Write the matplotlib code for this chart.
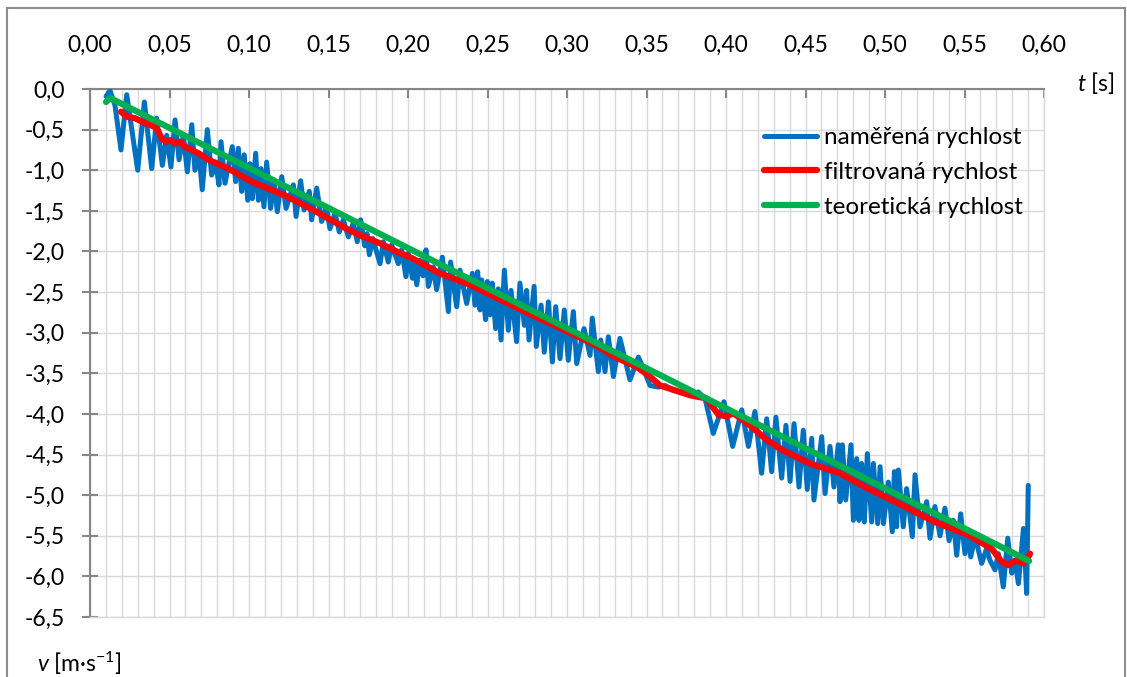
import matplotlib
matplotlib.use('Agg')
import matplotlib.pyplot as plt
from matplotlib.ticker import MultipleLocator
from matplotlib.patches import Rectangle

plt.rcParams['font.family'] = ['Lato', 'DejaVu Sans']
plt.rcParams['mathtext.fontset'] = 'custom'
plt.rcParams['mathtext.rm'] = 'Lato'
plt.rcParams['mathtext.it'] = 'Lato:italic'

# teoreticka rychlost
theory_t = [0.0101, 0.0126, 0.5906]
theory_v = [-0.16, -0.11, -5.81]

# filtrovana rychlost
filtered_t = [0.0195, 0.0231, 0.0283, 0.0325, 0.0377, 0.0419, 0.0451, 0.0476, 0.0503, 0.0535,
              0.0566, 0.0597, 0.0640, 0.0681, 0.0744, 0.0870, 0.1017, 0.1226, 0.1405, 0.1614,
              0.1698, 0.1824, 0.1929, 0.2033, 0.2201, 0.2390, 0.2778, 0.2987, 0.3197, 0.3302,
              0.3438, 0.3522, 0.3585, 0.3648, 0.3774, 0.3878, 0.3952, 0.4004, 0.4046, 0.4151,
              0.4256, 0.4360, 0.4528, 0.4717, 0.4895, 0.5105, 0.5314, 0.5524, 0.5671, 0.5734,
              0.5776, 0.5828, 0.5870, 0.5901, 0.5912]
filtered_v = [-0.28, -0.34, -0.36, -0.40, -0.44, -0.48, -0.61, -0.65, -0.63, -0.67,
              -0.65, -0.71, -0.75, -0.79, -0.87, -0.98, -1.14, -1.31, -1.49, -1.72,
              -1.80, -1.90, -2.00, -2.09, -2.27, -2.41, -2.78, -2.97, -3.17, -3.30,
              -3.42, -3.54, -3.65, -3.69, -3.77, -3.81, -4.01, -4.03, -3.99, -4.14,
              -4.32, -4.45, -4.61, -4.73, -4.92, -5.12, -5.33, -5.49, -5.66, -5.82,
              -5.86, -5.80, -5.84, -5.76, -5.72]

# namerena rychlost
measured_t = [0.0101, 0.0126, 0.0157, 0.0195, 0.0231, 0.0300, 0.0342, 0.0388, 0.0419, 0.0455,
              0.0482, 0.0509, 0.0535, 0.0560, 0.0587, 0.0612, 0.0640, 0.0660, 0.0686, 0.0706,
              0.0738, 0.0765, 0.0790, 0.0811, 0.0824, 0.0849, 0.0895, 0.0916, 0.0933, 0.0954,
              0.0970, 0.0992, 0.1006, 0.1021, 0.1042, 0.1059, 0.1075, 0.1094, 0.1111, 0.1136,
              0.1157, 0.1178, 0.1206, 0.1233, 0.1279, 0.1296, 0.1325, 0.1346, 0.1379, 0.1394,
              0.1426, 0.1457, 0.1488, 0.1509, 0.1541, 0.1568, 0.1593, 0.1625, 0.1656, 0.1681,
              0.1702, 0.1728, 0.1742, 0.1757, 0.1778, 0.1824, 0.1845, 0.1876, 0.1897, 0.1939,
              0.1960, 0.1987, 0.2002, 0.2028, 0.2040, 0.2055, 0.2075, 0.2095, 0.2113, 0.2128,
              0.2159, 0.2180, 0.2216, 0.2254, 0.2268, 0.2306, 0.2327, 0.2369, 0.2405, 0.2421,
              0.2438, 0.2453, 0.2463, 0.2488, 0.2499, 0.2516, 0.2530, 0.2551, 0.2568, 0.2585,
              0.2606, 0.2631, 0.2648, 0.2683, 0.2704, 0.2732, 0.2746, 0.2761, 0.2793, 0.2807,
              0.2837, 0.2857, 0.2883, 0.2908, 0.2929, 0.2956, 0.2983, 0.3008, 0.3040, 0.3061,
              0.3107, 0.3145, 0.3159, 0.3197, 0.3212, 0.3239, 0.3260, 0.3292, 0.3333, 0.3396,
              0.3449, 0.3480, 0.3522, 0.3574, 0.3616, 0.3669, 0.3721, 0.3774, 0.3826, 0.3868,
              0.3920, 0.3987, 0.4042, 0.4099, 0.4141, 0.4182, 0.4224, 0.4256, 0.4287, 0.4314,
              0.4350, 0.4377, 0.4403, 0.4428, 0.4459, 0.4486, 0.4511, 0.4539, 0.4553, 0.4602,
              0.4623, 0.4654, 0.4679, 0.4706, 0.4717, 0.4732, 0.4753, 0.4786, 0.4801, 0.4822,
              0.4836, 0.4853, 0.4870, 0.4889, 0.4916, 0.4927, 0.4954, 0.4969, 0.4990, 0.5021,
              0.5046, 0.5059, 0.5073, 0.5084, 0.5115, 0.5136, 0.5172, 0.5189, 0.5220, 0.5262,
              0.5283, 0.5314, 0.5346, 0.5377, 0.5403, 0.5430, 0.5451, 0.5476, 0.5503, 0.5524,
              0.5539, 0.5566, 0.5608, 0.5639, 0.5660, 0.5692, 0.5713, 0.5744, 0.5772, 0.5797,
              0.5818, 0.5839, 0.5871, 0.5891, 0.5901]
measured_v = [-0.09, -0.02, -0.20, -0.75, -0.07, -1.00, -0.16, -0.98, -0.36, -0.94,
              -0.57, -0.96, -0.38, -0.87, -0.57, -1.02, -0.44, -1.00, -0.81, -1.24,
              -0.50, -1.06, -0.90, -1.18, -0.65, -1.16, -0.71, -1.14, -0.73, -1.26,
              -0.81, -1.37, -0.92, -1.35, -0.79, -1.37, -0.98, -1.45, -0.90, -1.47,
              -1.12, -1.51, -1.08, -1.47, -1.18, -1.57, -1.13, -1.49, -1.26, -1.61,
              -1.22, -1.63, -1.45, -1.72, -1.53, -1.76, -1.61, -1.82, -1.65, -1.88,
              -1.61, -1.93, -1.78, -2.04, -1.84, -2.15, -1.88, -2.13, -1.92, -2.15,
              -1.98, -2.31, -2.02, -2.33, -2.14, -2.41, -2.11, -2.30, -1.98, -2.43,
              -2.19, -2.47, -2.07, -2.74, -2.13, -2.68, -2.23, -2.64, -2.27, -2.66,
              -2.25, -2.72, -2.35, -2.84, -2.37, -2.78, -2.39, -2.95, -2.46, -3.09,
              -2.23, -2.97, -2.48, -3.11, -2.39, -2.91, -2.48, -3.09, -2.43, -3.17,
              -2.66, -3.24, -2.62, -3.36, -2.68, -3.32, -2.72, -3.34, -2.74, -3.38,
              -2.95, -3.28, -2.82, -3.48, -3.09, -3.48, -3.05, -3.54, -3.07, -3.58,
              -3.30, -3.44, -3.65, -3.67, -3.65, -3.71, -3.73, -3.77, -3.73, -3.81,
              -4.24, -3.85, -4.40, -3.95, -4.40, -3.97, -4.73, -4.06, -4.71, -4.04,
              -4.79, -4.14, -4.83, -4.12, -4.90, -4.20, -4.93, -4.30, -5.06, -4.28,
              -4.98, -4.40, -4.90, -4.38, -5.08, -4.38, -5.06, -4.38, -5.31, -4.55,
              -5.31, -4.61, -5.33, -4.49, -5.33, -4.61, -5.35, -4.65, -5.35, -4.84,
              -5.45, -4.71, -5.39, -4.69, -5.39, -4.92, -5.51, -4.75, -5.39, -5.08,
              -5.53, -5.14, -5.50, -5.16, -5.56, -5.31, -5.74, -5.23, -5.72, -5.43,
              -5.76, -5.51, -5.84, -5.66, -5.80, -5.92, -5.72, -6.13, -5.53, -5.96,
              -5.80, -6.09, -5.41, -6.21, -4.88]

series_labels = ['naměřená rychlost', 'filtrovaná rychlost', 'teoretická rychlost']

x_ticks = [0.00, 0.05, 0.10, 0.15, 0.20, 0.25, 0.30, 0.35, 0.40, 0.45, 0.50, 0.55, 0.60]
x_labels = ['0,00', '0,05', '0,10', '0,15', '0,20', '0,25', '0,30', '0,35', '0,40',
            '0,45', '0,50', '0,55', '0,60']
y_ticks = [0.0, -0.5, -1.0, -1.5, -2.0, -2.5, -3.0, -3.5, -4.0, -4.5, -5.0, -5.5, -6.0, -6.5]
y_labels = ['0,0', '-0,5', '-1,0', '-1,5', '-2,0', '-2,5', '-3,0', '-3,5', '-4,0', '-4,5',
            '-5,0', '-5,5', '-6,0', '-6,5']

W, H = 1127, 677
fig = plt.figure(figsize=(W / 100, H / 100), dpi=100)
ax = fig.add_axes([90 / W, 1 - 617 / H, (1044 - 90) / W, (617 - 89) / H])

ax.plot(measured_t, measured_v, color='#0070C0', lw=3.6, label=series_labels[0],
        solid_joinstyle='round', solid_capstyle='round', zorder=3)
ax.plot(filtered_t, filtered_v, color='#FF0000', lw=4.5, label=series_labels[1],
        solid_joinstyle='round', solid_capstyle='round', zorder=4)
ax.plot(theory_t, theory_v, color='#00B050', lw=4.5, label=series_labels[2],
        solid_joinstyle='round', solid_capstyle='round', zorder=5)

ax.set_xlim(0, 0.6)
ax.set_ylim(-6.5, 0)

ax.xaxis.tick_top()
ax.set_xticks(x_ticks)
ax.set_xticklabels(x_labels)
ax.xaxis.set_minor_locator(MultipleLocator(0.01))
ax.set_yticks(y_ticks)
ax.set_yticklabels(y_labels)

ax.tick_params(axis='x', which='major', direction='in', length=6.5, width=1.5,
               color='#868686', pad=24, labelsize=16.5)
ax.tick_params(axis='x', which='minor', length=0)
ax.tick_params(axis='y', which='major', direction='inout', length=12, width=1.5,
               color='#868686', pad=12, labelsize=16.5)

ax.grid(True, which='both', axis='x', color='#D9D9D9', lw=1)
ax.grid(True, which='major', axis='y', color='#D9D9D9', lw=1)
ax.set_axisbelow(True)

for side in ['left', 'top']:
    ax.spines[side].set_color('#868686')
    ax.spines[side].set_linewidth(1.5)
for side in ['right', 'bottom']:
    ax.spines[side].set_color('#D9D9D9')
    ax.spines[side].set_linewidth(1)

ax.legend(loc='upper left', bbox_to_anchor=(764 / W, 1 - 127 / H),
          bbox_transform=fig.transFigure, frameon=False, fontsize=17.5,
          handlelength=2.2, handletextpad=0.25, labelspacing=0.57,
          borderpad=0, borderaxespad=0)

fig.text(1077 / W, 1 - 83 / H, r'$t$ [s]', fontsize=16.5, ha='left', va='center')
fig.text(37 / W, 1 - 663 / H, r'$v$ [m·s$^{-1}$]', fontsize=16.5, ha='left', va='center')

fig.patches.append(Rectangle((7 / W, -0.05), (1125 - 7) / W, 1.05 - 8 / H,
                             transform=fig.transFigure, fill=False,
                             edgecolor='#8C8C8C', lw=1.5))

fig.savefig('out.png', dpi=100)
